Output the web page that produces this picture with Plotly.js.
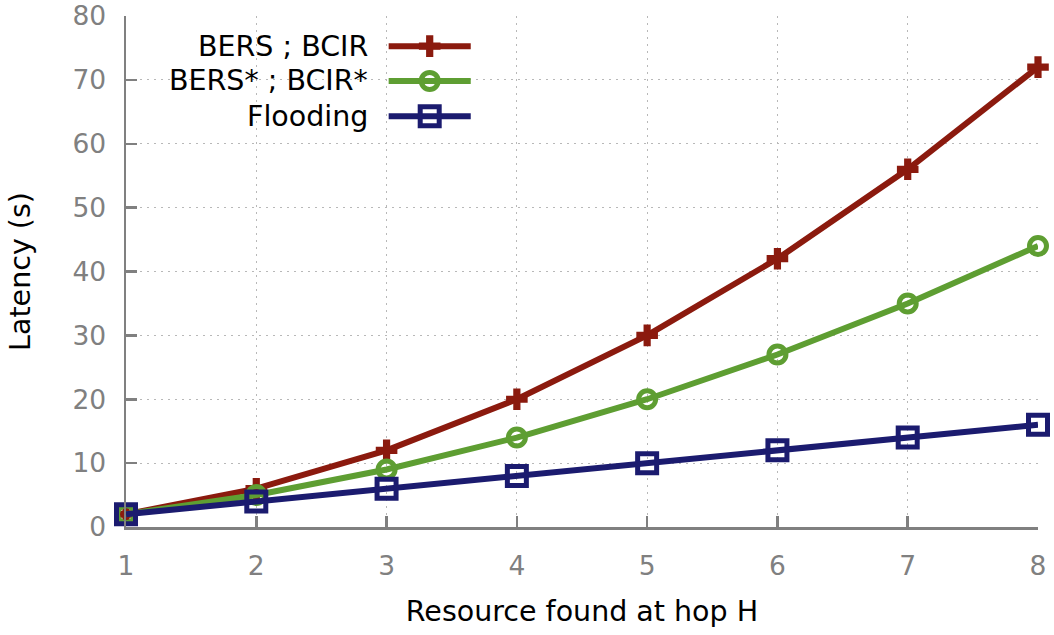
<!DOCTYPE html>
<html>
<head>
<meta charset="utf-8">
<script src="https://cdn.plot.ly/plotly-3.0.1.min.js"></script>
<style>html,body{margin:0;padding:0;background:#fff;}#chart{width:1054px;height:635px;}</style>
</head>
<body>
<div id="chart"></div>
<script>
const hops = [1, 2, 3, 4, 5, 6, 7, 8];
const bers = [2, 6, 12, 20, 30, 42, 56, 72];
const bersStar = [2, 5, 9, 14, 20, 27, 35, 44];
const flooding = [2, 4, 6, 8, 10, 12, 14, 16];
const seriesNames = ["BERS ; BCIR", "BERS* ; BCIR*", "Flooding"];
const xTitle = "Resource found at hop H";
const yTitle = "Latency (s)";

const colors = ["#8B1A0E", "#5E9E32", "#1B1B6F"];
const symbols = ["cross", "circle-open", "square-open"];
const sizes = [18, 17, 19];
const mlw = [0, 5, 5];
const lw = 6;
const font = "DejaVu Sans, Verdana, sans-serif";

const seriesVals = [bers, bersStar, flooding];
const traces = seriesVals.map((v, i) => ({
  x: hops, y: v, type: "scatter", mode: "lines+markers",
  name: seriesNames[i], cliponaxis: false, showlegend: false,
  line: {color: colors[i], width: lw},
  marker: {symbol: symbols[i], size: sizes[i], opacity: 1, color: colors[i], line: {color: colors[i], width: mlw[i]}}
}));

// custom legend (text left of sample) on an overlay axis
const legY = [0.941, 0.873, 0.804];
const legX = [0.288, 0.378];
const legMid = 0.333;
const annotations = [];
seriesNames.forEach((n, i) => {
  traces.push({
    x: legX, y: [legY[i], legY[i]], xaxis: "x2", yaxis: "y2",
    type: "scatter", mode: "lines", showlegend: false, hoverinfo: "skip", cliponaxis: false,
    line: {color: colors[i], width: lw}
  });
  traces.push({
    x: [legMid], y: [legY[i]], xaxis: "x2", yaxis: "y2",
    type: "scatter", mode: "markers", showlegend: false, hoverinfo: "skip", cliponaxis: false,
    marker: {symbol: symbols[i], size: sizes[i], opacity: 1, color: colors[i], line: {color: colors[i], width: mlw[i]}}
  });
  annotations.push({
    xref: "paper", yref: "paper", x: 0.2675, y: legY[i], xanchor: "right", yanchor: "middle",
    text: n, showarrow: false, font: {family: font, size: 28.5, color: "#000"}
  });
});

const axisCommon = {
  showline: true, linecolor: "#808080", linewidth: 2.5,
  ticks: "inside", ticklen: 11, tickwidth: 2.5, tickcolor: "#808080",
  showgrid: true, gridcolor: "#b8b8b8", griddash: "2px,5px", gridwidth: 1.2,
  zeroline: false, tickfont: {family: font, size: 26.5, color: "#808080"}
};

const layout = {
  width: 1054, height: 635,
  margin: {l: 126, r: 16, t: 16, b: 108},
  paper_bgcolor: "#fff", plot_bgcolor: "#fff",
  showlegend: false,
  xaxis: Object.assign({}, axisCommon, {
    range: [1, 8], tickvals: hops, ticklabelstandoff: 14,
    title: {text: xTitle, font: {family: font, size: 28.5, color: "#000"}, standoff: 21}
  }),
  yaxis: Object.assign({}, axisCommon, {
    range: [0, 80], dtick: 10, ticklabelstandoff: 12,
    title: {text: yTitle, font: {family: font, size: 28.5, color: "#000"}, standoff: 34}
  }),
  xaxis2: {overlaying: "x", range: [0, 1], visible: false, fixedrange: true},
  yaxis2: {overlaying: "y", range: [0, 1], visible: false, fixedrange: true},
  annotations: annotations
};

Plotly.newPlot("chart", traces, layout, {staticPlot: true});
</script>
</body>
</html>
